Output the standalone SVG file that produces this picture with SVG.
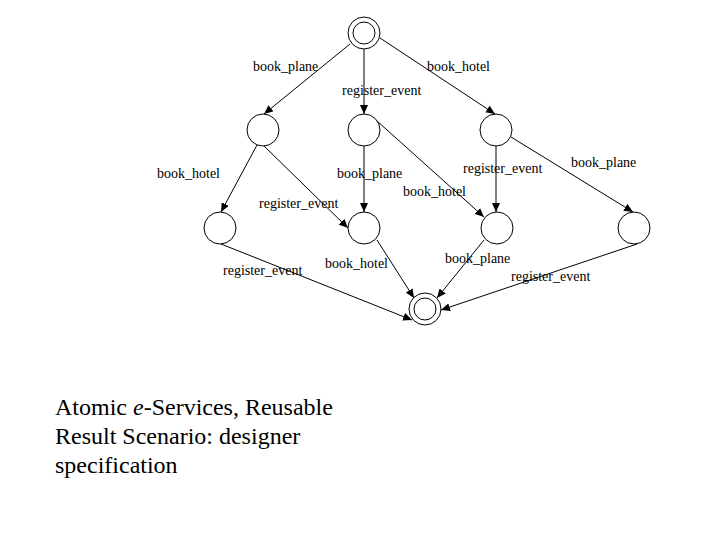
<svg xmlns="http://www.w3.org/2000/svg" width="720" height="540" viewBox="0 0 720 540">
<style>
.n{fill:#fff;stroke:#000;stroke-width:1}
.e{fill:none;stroke:#000;stroke-width:1;marker-end:url(#ah)}
.l{font-family:"Liberation Serif","Times New Roman",serif;font-size:14px;fill:#000}
.c{font-family:"Liberation Serif","Times New Roman",serif;font-size:24px;fill:#000}
</style>
<defs>
<marker id="ah" markerUnits="userSpaceOnUse" markerWidth="9" markerHeight="8" refX="9" refY="4" orient="auto">
<path d="M0,0 L9,4 L0,8 z" fill="#000"/>
</marker>
</defs>
<rect width="720" height="540" fill="#fff"/>
<g id="connectors">
<line class="e" x1="350" y1="44" x2="264" y2="114"/>
<line class="e" x1="364" y1="49" x2="364" y2="114"/>
<line class="e" x1="380" y1="38" x2="495" y2="114"/>
<line class="e" x1="257" y1="145" x2="221" y2="212"/>
<line class="e" x1="264" y1="146" x2="348" y2="228"/>
<line class="e" x1="364" y1="146" x2="364" y2="212"/>
<line class="e" x1="377" y1="121" x2="484" y2="217"/>
<line class="e" x1="496" y1="146" x2="496" y2="212"/>
<line class="e" x1="511" y1="137" x2="633" y2="212"/>
<line class="e" x1="221" y1="244" x2="412" y2="320"/>
<line class="e" x1="377" y1="240" x2="414" y2="298"/>
<line class="e" x1="484" y1="240" x2="437" y2="298"/>
<line class="e" x1="637" y1="244" x2="441" y2="310"/>
</g>
<g id="start"><circle class="n" cx="364" cy="33" r="16"/><circle class="n" cx="364" cy="33" r="11"/></g>
<g id="s1"><circle class="n" cx="263" cy="130" r="16"/></g>
<g id="s2"><circle class="n" cx="364" cy="130" r="16"/></g>
<g id="s3"><circle class="n" cx="496" cy="130" r="16"/></g>
<g id="s4"><circle class="n" cx="220" cy="228" r="16"/></g>
<g id="s5"><circle class="n" cx="364" cy="228" r="16"/></g>
<g id="s6"><circle class="n" cx="497" cy="228" r="16"/></g>
<g id="s7"><circle class="n" cx="634" cy="228" r="16"/></g>
<g id="end"><circle class="n" cx="425" cy="309" r="16"/><circle class="n" cx="425" cy="309" r="11"/></g>
<g id="labels">
<text class="l" x="253" y="71">book_plane</text>
<text class="l" x="427" y="71">book_hotel</text>
<text class="l" x="342" y="95">register_event</text>
<text class="l" x="157" y="178">book_hotel</text>
<text class="l" x="337" y="178">book_plane</text>
<text class="l" x="403" y="196">book_hotel</text>
<text class="l" x="259" y="208">register_event</text>
<text class="l" x="463" y="173">register_event</text>
<text class="l" x="571" y="167">book_plane</text>
<text class="l" x="223" y="275">register_event</text>
<text class="l" x="325" y="268">book_hotel</text>
<text class="l" x="445" y="263">book_plane</text>
<text class="l" x="511" y="281">register_event</text>
</g>
<g id="caption">
<text class="c" x="55" y="415">Atomic <tspan font-style="italic">e</tspan>-Services, Reusable</text>
<text class="c" x="55" y="444">Result Scenario: designer</text>
<text class="c" x="55" y="473">specification</text>
</g>
</svg>
